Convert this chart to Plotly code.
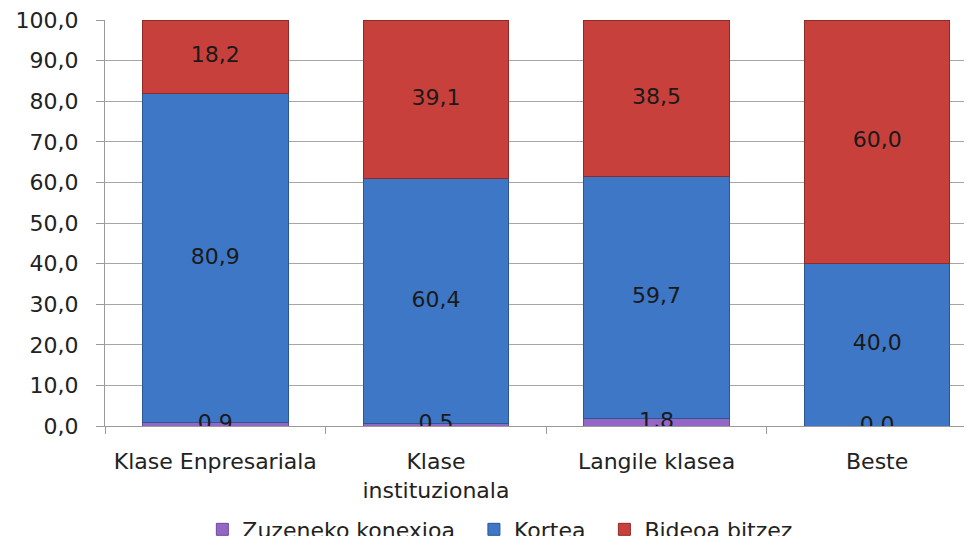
import plotly.graph_objects as go

categories = ["Klase Enpresariala", "Klase<br>instituzionala", "Langile klasea", "Beste"]
zuzeneko = [0.9, 0.5, 1.8, 0.0]
kortea = [80.9, 60.4, 59.7, 40.0]
bideoa = [18.2, 39.1, 38.5, 60.0]
series_names = ["Zuzeneko konexioa", "Kortea", "Bideoa bitzez"]
y_ticks = [0, 10, 20, 30, 40, 50, 60, 70, 80, 90, 100]

colors = ["#9467C6", "#3D77C6", "#C8403C"]
line_colors = ["#6E4A99", "#2B5791", "#8E2B28"]
FONT = "DejaVu Sans"
FS = 22
PAD = "\u00a0\u00a0"

fig = go.Figure()
series = [zuzeneko, kortea, bideoa]
for k, (name, vals, c, lc) in enumerate(zip(series_names, series, colors, line_colors)):
    fig.add_trace(go.Bar(
        x=categories, y=vals, name=name + (PAD if k < 2 else ""),
        marker=dict(color=c, line=dict(color=lc, width=1)),
        width=0.66,
    ))

# data labels at segment centres
lx, ly, lt = [], [], []
for i, cat in enumerate(categories):
    base = 0.0
    for vals in series:
        v = vals[i]
        lx.append(cat)
        ly.append(base + v / 2)
        lt.append(f"{v:.1f}".replace(".", ","))
        base += v
fig.add_trace(go.Scatter(
    x=lx, y=ly, text=lt, mode="text", showlegend=False,
    textfont=dict(family=FONT, size=FS, color="#1a1a1a"),
    hoverinfo="skip",
))

# page body has an 8px margin: figure is sized so the window shows 972x536
fig.update_layout(
    width=964, height=528,
    barmode="stack",
    separators=", ",
    paper_bgcolor="white", plot_bgcolor="white",
    margin=dict(l=97, r=0, t=12, b=110, autoexpand=False),
    font=dict(family=FONT, size=FS, color="#222222"),
    showlegend=True,
    legend=dict(
        orientation="h", x=0.456, xanchor="center", y=-0.255, yanchor="middle",
        font=dict(family=FONT, size=FS, color="#222222"),
        itemwidth=30, traceorder="normal",
    ),
)
fig.update_xaxes(
    type="category",
    range=[-0.5, 3.43],
    showline=True, linecolor="#9a9a9a", linewidth=1,
    ticks="outside", tickson="boundaries", ticklen=7, tickcolor="#9a9a9a",
    showgrid=False,
    tickfont=dict(family=FONT, size=FS, color="#222222"),
    ticklabelstandoff=16,
)
fig.update_yaxes(
    range=[0, 100],
    tickvals=y_ticks, tickformat=".1f",
    showline=True, linecolor="#9a9a9a", linewidth=1,
    ticks="outside", ticklen=8, tickcolor="#9a9a9a",
    showgrid=True, gridcolor="#a6a6a6", gridwidth=1,
    zeroline=False,
    tickfont=dict(family=FONT, size=FS, color="#222222"),
    ticklabelstandoff=13,
    ticklabeloverflow="allow",
)

fig.write_html("out.html")
